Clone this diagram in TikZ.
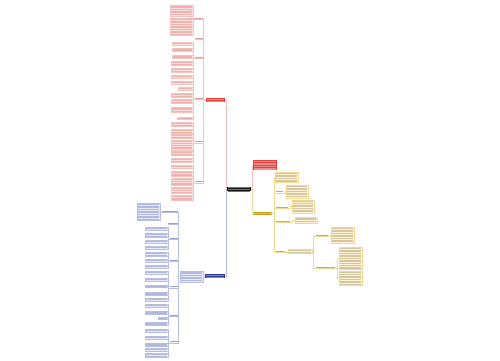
\documentclass[tikz,border=0pt]{standalone}
\definecolor{cInk}{HTML}{151515}
\definecolor{cRed}{HTML}{E2403A}
\definecolor{cRedBg}{HTML}{FCE3E1}
\definecolor{cRedInk}{HTML}{E07F78}
\definecolor{cRedLn}{HTML}{F5C2BE}
\definecolor{cBlue}{HTML}{2B3A98}
\definecolor{cBlueBg}{HTML}{E6E9F8}
\definecolor{cBlueInk}{HTML}{7F8ACB}
\definecolor{cBlueLn}{HTML}{B9BFE2}
\definecolor{cGold}{HTML}{F4C417}
\definecolor{cGoldBg}{HTML}{FFF5D6}
\definecolor{cGoldInk}{HTML}{A8976A}
\definecolor{cGoldLn}{HTML}{F3D990}

\begin{document}
\begin{tikzpicture}[
  x=1pt, y=-1pt,
  txt/.style={path picture={\foreach \k in {1,...,14}
      \draw[#1, line width=.42pt]
        ([shift={(1pt,-1.7pt*\k+.6pt)}]path picture bounding box.north west) --
        ([shift={(-1pt,-1.7pt*\k+.6pt)}]path picture bounding box.north east);}},
  bar/.style={path picture={\draw[#1, line width=.55pt]
      ([xshift=.3pt]path picture bounding box.west) --
      ([xshift=-.3pt]path picture bounding box.east);}},
  hub/.style={fill=#1, inner sep=0pt, minimum height=4, txt=white!40!#1},
  uleaf/.style={draw=cRedLn, fill=cRedBg, line width=.3pt, inner sep=0pt,
                anchor=east, txt=cRedInk!50!cRedBg},
  bleaf/.style={draw=cBlueLn, fill=cBlueBg, line width=.3pt, inner sep=0pt,
                anchor=east, txt=cBlueInk!50!cBlueBg},
  yleaf/.style={draw=cGoldLn, fill=cGoldBg, line width=.3pt, inner sep=0pt,
                anchor=west, txt=cGoldInk!50!cGoldBg},
  ulab/.style={inner sep=0pt, minimum height=2.5, minimum width=#1, anchor=east, bar=cRedInk!80},
  blab/.style={inner sep=0pt, minimum height=2.5, minimum width=#1, anchor=east, bar=cBlueInk!80},
  ylab/.style={inner sep=0pt, minimum height=2.5, minimum width=#1, anchor=west, bar=cGoldInk!80},
  ulink/.style={draw=cRedLn, line width=.55pt},
  blink/.style={draw=cBlueLn, line width=.55pt},
  ylink/.style={draw=cGoldLn, line width=.55pt},
]
\fill[white] (0,0) rectangle (500,360);
\useasboundingbox (0,0) rectangle (500,360);

% ---------------- root ----------------
\node[hub=cInk, minimum width=24, minimum height=4.5, anchor=west] (root) at (227,188.8) {};

% ---------------- upper left branch ----------------
\node[hub=cRed, minimum width=19, minimum height=3.6, anchor=east] (upper) at (225,100) {};
\draw[ulink] (root.west) -- ++(-1,0) |- (upper.east);

\node[ulab=10] (L1) at (203,18.3) {};
\node[ulab=8] (L2) at (203,38.3) {};
\node[ulab=8] (L3) at (203,57) {};
\node[ulab=8] (L4) at (203,98.3) {};
\node[ulab=8] (L5) at (203,141.7) {};
\node[ulab=8] (L6) at (203,181.7) {};
\foreach \l in {L1,L2,L3,L4,L5,L6}
  \draw[ulink] (upper.west) -- ++(-2,0) |- (\l.south east) -- (\l.south west);

\foreach \n/\y/\h/\w/\p in {u1/10.3/11.3/23/L1, u2/26.5/17/23/L1,
    u3/43.5/2.5/21/L3, u4/49.5/3.5/21/L3, u5/56.2/3/21/L3, u6/63.3/3.5/22/L3,
    u7/70/3.5/22/L3, u8/76.7/3.5/22/L4, u9/83/3/22/L4, u10/88.7/2.5/15/L4,
    u11/95/3.5/22/L4, u12/101.3/4.5/22/L4, u13/109.5/5.5/22/L4, u14/118.3/2.5/16/L4,
    u15/124.3/3.5/22/L5, u16/131/3.5/22/L5, u17/136.3/4/22/L5, u18/145.3/9.5/22/L5,
    u19/153.3/3.5/22/L5, u20/160/3.5/22/L5, u21/166.7/3.5/22/L6, u22/173.5/5/22/L6,
    u23/181.7/6.5/22/L6, u24/190/5.5/22/L6, u25/197.5/5/22/L6}{
  \node[uleaf, minimum width=\w, minimum height=\h] (\n) at (193,\y) {};
  \draw[ulink] (\p.south west) -- ++(-1,0) |- (\n.east);
}

% ---------------- lower left branch ----------------
\node[hub=cBlue, minimum width=20, minimum height=3.2, anchor=east] (lower) at (225,276) {};
\draw[blink] (root.west) -- ++(-1,0) |- (lower.east);
\node[bleaf, minimum width=23, minimum height=11.5] (summ) at (203,276.5) {};
\draw[blink] (lower.west) -- (summ.east);

\node[blab=16] (B1) at (178,211) {};
\node[blab=10] (B2) at (178,223.3) {};
\node[blab=8] (B3) at (178,238.3) {};
\node[blab=8] (B4) at (178,260) {};
\node[blab=8] (B5) at (178,286.5) {};
\node[blab=8] (B6) at (178,315) {};
\node[blab=8] (B7) at (178,341.7) {};
\foreach \l in {B1,B2,B3,B4,B5,B6,B7}
  \draw[blink] (summ.west) -- ++(-1,0) |- (\l.south east) -- (\l.south west);

\node[bleaf, minimum width=23, minimum height=17] (intro) at (160,211.5) {};
\draw[blink] (B1.south west) -- ++(-1,0) |- (intro.east);

\foreach \n/\y/\h/\w/\p in {d1/228.8/2.5/23/B3, d2/234.8/3.7/23/B3, d3/241.7/3.3/23/B3,
    d4/247.8/2.5/23/B3, d5/254/3.3/23/B4, d6/260.3/2.7/23/B4, d7/266.3/2.7/23/B4,
    d8/272.8/3/23/B5, d9/279.5/2.5/23/B5, d10/286.2/2.5/23/B5, d11/293.3/3.3/23/B5,
    d12/299.5/2.5/23/B5, d13/305.3/2.7/23/B6, d14/312.3/3.3/23/B6, d15/318.3/2.5/10/B6,
    d16/323.3/3.3/23/B6, d17/330.7/3.3/23/B7, d18/337.7/3.3/23/B7, d19/344.3/3.3/23/B7,
    d20/349.6/3.3/23/B7, d21/355/3.3/23/B7}{
  \node[bleaf, minimum width=\w, minimum height=\h] (\n) at (168,\y) {};
  \draw[blink] (\p.south west) -- ++(-1,0) |- (\n.east);
}

% ---------------- right branches ----------------
\node[hub=cRed, minimum width=24, minimum height=10, anchor=west] (note) at (253,165) {};
\draw[ulink] (root.east) -- ++(1,0) |- (note.west);

\node[hub=cGold, minimum width=19, minimum height=3.6, anchor=west, txt=cInk!22!cGold] (gold) at (253,213.3) {};
\draw[ylink] (root.east) -- ++(1,0) |- (gold.west);

\node[yleaf, minimum width=23, minimum height=10] (y0) at (275,177) {};
\node[ylab=8] (R1) at (275,191.7) {};
\node[ylab=13] (R2) at (275,207) {};
\node[ylab=15] (R3) at (275,220.8) {};
\node[ylab=10] (R4) at (275,251) {};
\draw[ylink] (gold.east) -- ++(1.5,0) |- (y0.west);
\foreach \l in {R1,R2,R3,R4}
  \draw[ylink] (gold.east) -- ++(1.5,0) |- (\l.south west) -- (\l.south east);

\node[yleaf, minimum width=22, minimum height=13] (r1) at (286,191.5) {};
\node[yleaf, minimum width=22, minimum height=12.7] (r2) at (292,206.7) {};
\node[yleaf, minimum width=22, minimum height=6.6] (r3) at (295,220) {};
\node[yleaf, minimum width=24, minimum height=3.6] (r4) at (288,251) {};
\draw[ylink] (R1.south east) -- ++(1.5,0) |- (r1.west);
\draw[ylink] (R2.south east) -- ++(1.5,0) |- (r2.west);
\draw[ylink] (R3.south east) -- ++(1.5,0) |- (r3.west);
\draw[ylink] (R4.south east) -- ++(1.5,0) |- (r4.west);

\node[ylab=13] (S1) at (315,235) {};
\node[ylab=20] (S2) at (315,267) {};
\draw[ylink] (r4.east) -- ++(1,0) |- (S1.south west) -- (S1.south east);
\draw[ylink] (r4.east) -- ++(1,0) |- (S2.south west) -- (S2.south east);

\node[yleaf, minimum width=23, minimum height=16] (s1) at (331,235) {};
\node[yleaf, minimum width=23, minimum height=22] (s2a) at (339,258) {};
\node[yleaf, minimum width=23, minimum height=13.5] (s2b) at (339,278) {};
\draw[ylink] (S1.south east) -- ++(1.5,0) |- (s1.west);
\draw[ylink] (S2.south east) -- ++(2,0) |- (s2a.west);
\draw[ylink] (S2.south east) -- ++(2,0) |- (s2b.west);

\end{tikzpicture}
\end{document}
